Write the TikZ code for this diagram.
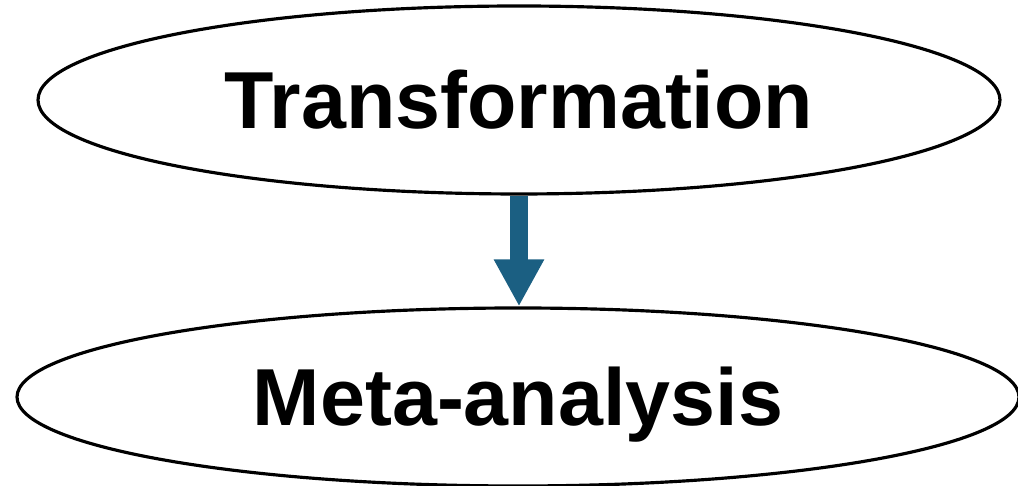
\documentclass[tikz,border=0pt]{standalone}
\usepackage{fontspec}
\setmainfont{Liberation Sans}
\usetikzlibrary{shapes.geometric}
\usetikzlibrary{arrows.meta}

\definecolor{arrowblue}{HTML}{1B5F82}

\tikzset{
    stage/.style={ellipse, draw, line width=0.9pt, inner sep=0pt,
        font=\fontsize{23}{27}\selectfont\bfseries,
        text height=16.5pt, text depth=0pt},
    flow/.style={arrowblue, line width=1.8mm,
        -{Triangle[width=4.7mm, length=4.7mm]}}
}

\begin{document}
\begin{tikzpicture}

    \useasboundingbox (0, 0) rectangle (10.18, -4.86);

    % The two stages
    \node[stage, minimum width=9.62cm, minimum height=1.88cm] (transform) at (5.19, -1.00) {Transformation};
    \node[stage, minimum width=10.02cm, minimum height=1.78cm] (meta) at (5.18, -3.97) {Meta-analysis};

    % Arrow between them
    \draw[flow] (transform.south) -- (transform.south |- meta.north);

\end{tikzpicture}
\end{document}
